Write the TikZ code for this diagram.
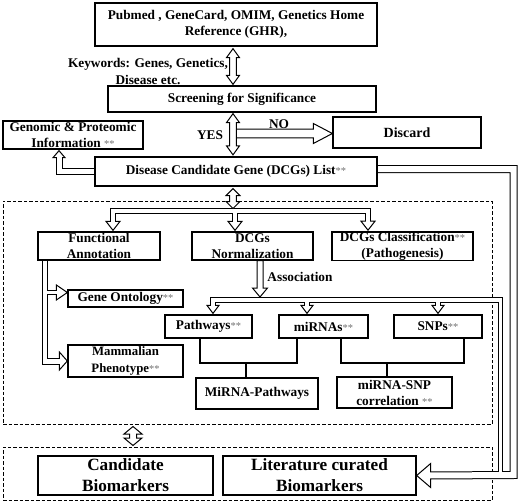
\documentclass[tikz,border=0pt]{standalone}
\usepackage{fontspec}
\setmainfont{Liberation Serif}
\usetikzlibrary{calc,backgrounds}
\newcommand\dstar{{\color{black!55}\mdseries\fontsize{10.5}{10}\selectfont**}}
% vertical double-headed block arrow: #1 top tip, #2 bottom tip, #3 shaft half, #4 head half, #5 head length
\newcommand\vdbl[5]{\filldraw[hol] (#1) -- ($(#1)+(#4,#5)$) -- ($(#1)+(#3,#5)$) -- ($(#2)+(#3,-#5)$) -- ($(#2)+(#4,-#5)$) -- (#2) -- ($(#2)+(-#4,-#5)$) -- ($(#2)+(-#3,-#5)$) -- ($(#1)+(-#3,#5)$) -- ($(#1)+(-#4,#5)$) -- cycle;}
% vertical down block arrow: #1 start, #2 tip
\newcommand\vdn[5]{\filldraw[hol] ($(#1)+(-#3,0)$) -- ($(#2)+(-#3,-#5)$) -- ($(#2)+(-#4,-#5)$) -- (#2) -- ($(#2)+(#4,-#5)$) -- ($(#2)+(#3,-#5)$) -- ($(#1)+(#3,0)$) -- cycle;}
% horizontal right block arrow: #1 start, #2 tip
\newcommand\hrt[5]{\filldraw[hol] ($(#1)+(0,-#3)$) -- ($(#2)+(-#5,-#3)$) -- ($(#2)+(-#5,-#4)$) -- (#2) -- ($(#2)+(-#5,#4)$) -- ($(#2)+(-#5,#3)$) -- ($(#1)+(0,#3)$) -- cycle;}
% heads: #1 tip, #2 half width, #3 length
\newcommand\hdup[3]{\filldraw[hol] (#1) -- ($(#1)+(#2,#3)$) -- ($(#1)+(-#2,#3)$) -- cycle;}
\newcommand\hddown[3]{\filldraw[hol] (#1) -- ($(#1)+(#2,-#3)$) -- ($(#1)+(-#2,-#3)$) -- cycle;}
\newcommand\hdright[3]{\filldraw[hol] (#1) -- ($(#1)+(-#3,#2)$) -- ($(#1)+(-#3,-#2)$) -- cycle;}
\newcommand\hdleft[3]{\filldraw[hol] (#1) -- ($(#1)+(#3,#2)$) -- ($(#1)+(#3,-#2)$) -- cycle;}
\begin{document}
\begin{tikzpicture}[x=1pt,y=-1pt,
  box/.style={draw, line width=1.3pt, fill=white, align=center, inner sep=0pt,
    font=\bfseries\fontsize{13.3}{16}\selectfont},
  bigtxt/.style={font=\bfseries\fontsize{17.2}{21}\selectfont},
  lab/.style={align=center, inner sep=0pt, font=\bfseries\fontsize{13.3}{17}\selectfont},
  hol/.style={draw=black, fill=white, line width=1pt, line join=miter},
  dbox/.style={draw, line width=1pt, dash pattern=on 3.5pt off 2pt, inner sep=0pt},
  blk/.style={draw=black, line width=#1, line join=miter, line cap=butt},
  wht/.style={draw=white, line width=#1, line join=miter, line cap=butt}]
\useasboundingbox (0,0) rectangle (520,503);
% boxes
\node[box, minimum width=282, minimum height=43] (src) at (236,24.5) {Pubmed , GeneCard, OMIM, Genetics Home\\Reference (GHR),};
\node[box, minimum width=268, minimum height=26] (scr) at (242,99) {Screening for Significance};
\node[box, minimum width=140, minimum height=28] (gen) at (73,135) {Genomic \& Proteomic\\Information \dstar};
\node[box, minimum width=148, minimum height=31, font=\bfseries\fontsize{14}{16}\selectfont] (dis) at (407,132.5) {Discard};
\node[box, minimum width=282, minimum height=29] (dcg) at (236,171.5) {Disease Candidate Gene (DCGs) List\dstar};
\node[box, minimum width=122, minimum height=28] (fa) at (99,246) {Functional\\Annotation};
\node[box, minimum width=121, minimum height=28] (nrm) at (252.5,246) {DCGs\\Normalization};
\node[box, minimum width=141, minimum height=28] (cls) at (402.5,246) {DCGs Classification\dstar\\(Pathogenesis)};
\node[box, minimum width=115, minimum height=17] (go) at (125.5,298.5) {Gene Ontology\dstar};
\node[box, minimum width=115, minimum height=32, font=\bfseries\fontsize{12.8}{16.5}\selectfont] (mp) at (125.5,361) {Mammalian\\Phenotype\dstar};
\node[box, minimum width=87, minimum height=23] (pw) at (208.5,326.5) {Pathways\dstar};
\node[box, minimum width=89, minimum height=23] (mi) at (323.5,326.5) {miRNAs\dstar};
\node[box, minimum width=88, minimum height=23] (snp) at (438,326.5) {SNPs\dstar};
\node[box, minimum width=122, minimum height=31] (mpw) at (257,393.5) {MiRNA-Pathways};
\node[box, minimum width=115, minimum height=31] (msnp) at (394.5,392.5) {miRNA-SNP\\correlation \dstar};
\node[box, bigtxt, minimum width=175, minimum height=39] (cb) at (125.5,475.5) {Candidate\\Biomarkers};
\node[box, bigtxt, minimum width=193, minimum height=39] (lcb) at (319.5,475.5) {Literature curated\\Biomarkers};
% labels
\node[lab] (kw) at (148,71.5) {Keywords: Genes, Genetics,\\Disease etc.};
\node[lab] (yes) at (210,135) {YES};
\node[lab] (no) at (279,124) {NO};
\node[lab] (asc) at (300,277) {Association};
% tree lines
\draw[line width=1.2pt] (pw.south -| 200,0) -- (200,363) -- (297,363) -- (mi.south -| 297,0);
\draw[line width=1.2pt] (246,363) -- (mpw.north -| 246,0);
\draw[line width=1.2pt] (mi.south -| 341,0) -- (341,363) -- (464,363) -- (snp.south -| 464,0);
\draw[line width=1.2pt] (387,363) -- (msnp.north -| 387,0);
\begin{pgfonlayer}{background}
\fill[white] (0,0) rectangle (520,503);
\node[dbox, minimum width=489, minimum height=223] (grp1) at (247.5,312.5) {};
\node[dbox, minimum width=489, minimum height=53] (grp2) at (247.5,473.5) {};
% black outlines of branched hollow connectors
\draw[blk=7pt] ($(dcg.west)+(5,0)$) -- (59,171.5) -- (59,157);
\draw[blk=8pt] ($(dcg.east)+(-5,-2.5)$) -- (513.5,169) -- (513.5,475) -- ($(lcb.east)+(14,0)$);
\draw[blk=5.5pt] (213,306) -- (213,300) -- (500.5,300) -- (500.5,475);
\draw[blk=5.5pt] (307,300) -- (307,306);
\draw[blk=5.5pt] (438,300) -- (438,306);
\draw[blk=5.5pt] (113,222) -- (113,211) -- (368,211) -- (368,222);
\draw[blk=5.5pt] (235,211) -- (235,222);
\draw[blk=6.5pt] ($(fa.south -| 45,0)+(0,-2)$) -- (45,361.5) -- (60,361.5);
\draw[blk=5.5pt] (45,292.5) -- (57,292.5);
% heads
\hdup{$(gen.south -| 59,0)+(0,1)$}{6}{7}
\hdleft{lcb.east}{12}{14}
\hddown{$(pw.north -| 213,0)+(0,-1)$}{6}{8}
\hddown{$(mi.north -| 307,0)+(0,-1)$}{6}{8}
\hddown{$(snp.north -| 438,0)+(0,-1)$}{6}{8}
\hddown{$(fa.north -| 113,0)+(0,-1)$}{7}{9}
\hddown{$(nrm.north -| 235,0)+(0,-1)$}{7}{9}
\hddown{$(cls.north -| 368,0)+(0,-1)$}{7}{9}
\hdright{mp.west}{9}{8}
\hdright{$(go.west)+(0,-6)$}{7.5}{11}
% white interiors
\draw[wht=5pt] ($(dcg.west)+(5,0)$) -- (59,171.5) -- (59,156);
\draw[wht=3.5pt] (213,307) -- (213,300) -- (500.5,300) -- (500.5,475);
\draw[wht=3.5pt] (307,300) -- (307,307);
\draw[wht=3.5pt] (438,300) -- (438,307);
\draw[wht=6pt] ($(dcg.east)+(-5,-2.5)$) -- (513.5,169) -- (513.5,475) -- ($(lcb.east)+(13,0)$);
\draw[wht=3.5pt] (113,223) -- (113,211) -- (368,211) -- (368,223);
\draw[wht=3.5pt] (235,211) -- (235,223);
\draw[wht=4.5pt] ($(fa.south -| 45,0)+(0,-2)$) -- (45,361.5) -- (61,361.5);
\draw[wht=3.5pt] (45,292.5) -- (58,292.5);
% single block arrows
\vdn{nrm.south -| 260,0}{260,297}{3}{7.5}{9}
\hrt{233,133.5}{dis.west |- 0,133.5}{4.3}{10}{19}
% double block arrows
\vdbl{$(src.south -| 233,0)+(0,2)$}{$(scr.north -| 233,0)+(0,-1)$}{3.3}{6.5}{9}
\vdbl{$(scr.south -| 233,0)+(0,1)$}{$(dcg.north -| 233,0)+(0,-1.5)$}{3.3}{6.5}{9}
\vdbl{$(dcg.south -| 233,0)+(0,2)$}{233,208.5}{3.3}{7}{7}
\vdbl{$(grp1.south -| 133,0)+(0,2)$}{$(grp2.north -| 133,0)+(0,-1)$}{3.5}{9}{7.5}
\end{pgfonlayer}
\end{tikzpicture}
\end{document}
